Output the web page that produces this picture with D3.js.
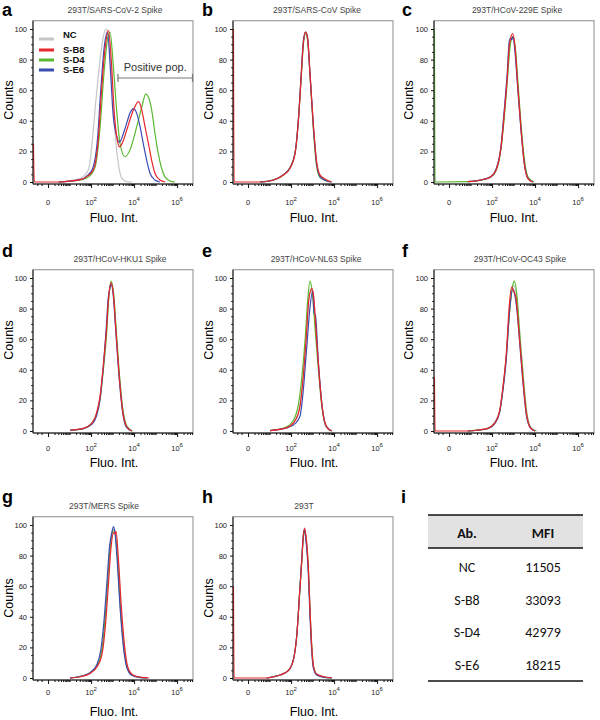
<!DOCTYPE html>
<html><head><meta charset="utf-8">
<script src="https://cdn.jsdelivr.net/npm/d3@7"></script>
<style>body{margin:0;background:#fff}svg{display:block}</style>
</head><body><svg id="c" width="600" height="720"></svg>
<script>
// ---------- DATA ----------
// x values: display units of fluorescence (decades, logicle-like axis), y values: counts (% of max)
const seriesNames = ["NC", "S-B8", "S-D4", "S-E6"];
const yTicks = [0, 20, 40, 60, 80, 100];
const xTicks = [0, 2, 4, 6];
const xTickExp = ["", "2", "4", "6"];
const panelIds = ["a","b","c","d","e","f","g","h"];
const panelTitles = ["293T/SARS-CoV-2 Spike","293T/SARS-CoV Spike","293T/HCoV-229E Spike","293T/HCoV-HKU1 Spike","293T/HCoV-NL63 Spike","293T/HCoV-OC43 Spike","293T/MERS Spike","293T"];
const tableHead = ["Ab.", "MFI"];
const tableAb = ["NC", "S-B8", "S-D4", "S-E6"];
const tableMFI = [11505, 33093, 42979, 18215];

const a_NC  = [[0.5,0],[0.87,0.6],[1.49,2.4],[1.88,8],[2.03,23],[2.23,54],[2.42,80],[2.57,95],[2.69,100],[2.81,95],[2.92,75],[3.04,49],[3.16,25],[3.29,10],[3.43,2.4],[3.66,0.2],[3.9,0]];
const a_SB8 = [[-0.68,25],[-0.64,0],[0.5,0],[1.0,0.6],[1.5,1.5],[1.85,4],[2.11,8],[2.33,27],[2.48,58],[2.64,86],[2.81,99],[2.96,75],[3.07,47],[3.19,30],[3.33,23],[3.5,27],[3.66,34],[3.97,47],[4.2,52.5],[4.36,47],[4.51,36],[4.67,25],[4.82,14],[4.97,5.7],[5.2,1.3],[5.45,0]];
const a_SD4 = [[0.5,0],[1.0,0.5],[1.5,1.3],[1.9,3.5],[2.19,10],[2.42,36],[2.6,71],[2.76,93],[2.88,98],[3.04,75],[3.19,47],[3.35,25],[3.58,16.5],[3.81,21],[4.12,36],[4.36,49],[4.54,57.5],[4.69,54.7],[4.82,47],[4.97,32],[5.12,19],[5.28,9],[5.43,3.5],[5.67,0.7],[5.9,0]];
const a_SE6 = [[0.5,0],[1.0,0.6],[1.5,1.5],[1.85,4.5],[2.08,9],[2.3,28],[2.45,60],[2.61,88],[2.76,98],[2.91,71],[3.02,45],[3.19,30],[3.32,26],[3.58,35],[3.84,46],[3.97,48],[4.12,45],[4.28,36],[4.43,25],[4.59,14],[4.74,5.7],[4.97,1.3],[5.2,0]];

const b_NC  = [[0.56,0],[1.18,1.2],[1.64,4.4],[1.95,9],[2.19,19],[2.34,40],[2.47,69],[2.57,90],[2.66,97],[2.75,94],[2.87,72],[3.03,37],[3.18,12],[3.34,3.3],[3.58,1],[3.85,0]];
const b_SB8 = [[-0.68,100],[-0.65,0],[0.56,0],[1.18,1.3],[1.64,4.6],[1.95,9],[2.19,19],[2.34,40],[2.47,69],[2.57,91],[2.67,98],[2.76,95],[2.88,71],[3.04,37],[3.19,13],[3.35,4.5],[3.58,2],[3.89,0]];
const b_SD4 = [[0.56,0],[1.18,1.3],[1.64,4.5],[1.95,9.5],[2.2,20],[2.35,42],[2.48,70],[2.58,91],[2.67,97],[2.77,93],[2.88,70],[3.03,36],[3.18,11],[3.34,3],[3.58,1],[3.85,0]];
const b_SE6 = [[0.56,0],[1.18,1.3],[1.64,4.8],[1.95,9.3],[2.19,19.5],[2.34,41],[2.47,70],[2.57,92],[2.67,98],[2.76,95],[2.88,71],[3.04,36],[3.19,12],[3.35,3.5],[3.58,1.2],[3.89,0]];

const c_NC  = [[0.87,0.2],[1.49,1.3],[1.95,3.5],[2.19,8],[2.42,23],[2.57,45],[2.71,69],[2.83,90],[2.94,95],[3.06,88],[3.19,63],[3.35,34],[3.5,13],[3.66,3],[3.92,0]];
const c_SB8 = [[0.87,0.2],[1.49,1.3],[1.95,3.5],[2.19,8],[2.42,23],[2.57,45],[2.71,69],[2.81,90],[2.96,97],[3.07,88],[3.19,64],[3.35,34],[3.5,12],[3.66,2.4],[3.89,0]];
const c_SD4 = [[-0.68,100],[-0.65,0],[0.87,0.2],[1.49,1.2],[1.95,3.3],[2.19,7.5],[2.42,22],[2.58,44],[2.72,68],[2.84,89],[2.97,95],[3.08,88],[3.21,64],[3.37,34],[3.52,13],[3.68,3],[3.95,0]];
const c_SE6 = [[0.87,0.2],[1.49,1.4],[1.95,3.6],[2.19,8.5],[2.42,24],[2.56,46],[2.7,70],[2.8,92],[2.86,94],[2.92,93],[2.97,95],[3.06,86],[3.19,62],[3.35,33],[3.5,12],[3.66,2.5],[3.89,0]];

const d_NC  = [[1.02,0.5],[1.64,1.7],[2.03,5],[2.26,11.5],[2.42,22],[2.57,42],[2.71,64],[2.82,87],[2.93,96],[3.04,90],[3.16,67],[3.32,36],[3.47,15],[3.66,3.2],[3.92,0]];
const d_SB8 = [[1.02,0.5],[1.64,1.7],[2.03,5],[2.26,12],[2.42,23],[2.57,43],[2.71,65],[2.82,88],[2.93,97],[3.04,89],[3.16,65],[3.32,34],[3.47,13],[3.66,2.8],[3.89,0]];
const d_SD4 = [[1.02,0.5],[1.64,1.6],[2.03,4.8],[2.26,11],[2.42,21],[2.58,41],[2.72,63],[2.83,88],[2.93,98],[3.04,91],[3.17,66],[3.33,35],[3.48,14],[3.67,3],[3.92,0]];
const d_SE6 = [[1.02,0.5],[1.64,1.5],[2.03,4.3],[2.26,10],[2.42,21],[2.57,42],[2.7,66],[2.8,87],[2.86,92],[2.93,96],[3.03,89],[3.15,65],[3.31,34],[3.46,13],[3.64,2.5],[3.89,0]];

const e_NC  = [[1.02,0.3],[1.8,2.3],[2.15,6],[2.4,16],[2.55,34],[2.7,61],[2.82,86],[2.94,93],[3.04,89],[3.15,69],[3.3,39],[3.46,15],[3.66,3],[3.92,0]];
const e_SB8 = [[1.02,0.3],[1.8,2.2],[2.15,6],[2.4,15],[2.55,33],[2.7,60],[2.82,85],[2.96,93],[3.05,88],[3.15,68],[3.3,38],[3.46,14],[3.66,2.5],[3.89,0]];
const e_SD4 = [[1.02,0.3],[1.8,2.8],[2.11,7],[2.35,18],[2.5,35],[2.66,61],[2.77,85],[2.88,98],[2.99,90],[3.11,68],[3.27,40],[3.43,16],[3.63,3],[3.89,0]];
const e_SE6 = [[1.02,0.3],[1.8,2],[2.2,5],[2.42,10],[2.57,27],[2.73,55],[2.88,81],[3.01,91.5],[3.07,77],[3.13,76],[3.27,45],[3.43,18],[3.63,3],[3.89,0]];

const f_NC  = [[0.87,0],[1.33,0.7],[1.8,2],[2.11,5.5],[2.35,13],[2.5,28],[2.66,50],[2.81,78],[2.94,93],[3.02,95],[3.15,87],[3.3,62],[3.46,35],[3.61,13],[3.81,2.5],[4.1,0]];
const f_SB8 = [[-0.68,35],[-0.65,0],[0.87,0],[1.33,0.6],[1.8,1.7],[2.11,5],[2.35,13],[2.5,28],[2.66,50],[2.8,82],[2.91,94],[2.98,92],[3.1,88],[3.25,65],[3.42,36],[3.58,13],[3.78,2],[4.0,0]];
const f_SD4 = [[0.87,0],[1.33,0.6],[1.8,1.7],[2.11,5],[2.35,12.6],[2.5,27],[2.66,48],[2.81,77],[2.96,95],[3.04,98],[3.16,88],[3.3,61],[3.46,33],[3.61,11.5],[3.81,1.7],[4.04,0]];
const f_SE6 = [[0.87,0],[1.33,0.5],[1.8,1.5],[2.11,4.5],[2.35,12],[2.5,26],[2.66,47],[2.81,78],[2.96,93],[3.04,90],[3.15,80],[3.3,55],[3.46,28],[3.61,9],[3.81,1.5],[4.0,0]];

const g_NC  = [[1.02,0],[1.49,0.8],[1.95,3],[2.26,7],[2.49,15],[2.64,33],[2.78,60],[2.9,84],[3.03,95],[3.12,95],[3.25,78],[3.38,48],[3.53,22],[3.69,7],[3.92,2],[4.3,0.4],[4.65,0]];
const g_SB8 = [[1.02,0],[1.49,0.8],[1.95,3],[2.26,7],[2.5,15],[2.66,33],[2.8,60],[2.92,84],[3.05,95],[3.12,94],[3.16,96],[3.27,78],[3.4,48],[3.55,22],[3.71,7],[3.95,2],[4.35,0.4],[4.7,0]];
const g_SD4 = [[1.02,0],[1.49,1],[1.95,3.3],[2.26,7.6],[2.47,16],[2.62,34],[2.76,60],[2.88,84],[3.01,96],[3.09,96.7],[3.22,79],[3.35,49],[3.5,23],[3.66,7.6],[3.89,2],[4.28,0.4],[4.6,0]];
const g_SE6 = [[1.02,0],[1.49,1],[1.95,3.5],[2.26,8.5],[2.45,18],[2.6,37],[2.74,63],[2.86,86],[2.98,96],[3.04,99],[3.12,94],[3.22,76],[3.35,46],[3.5,21],[3.66,7],[3.89,1.8],[4.28,0.3],[4.6,0]];

const h_NC  = [[0.87,0],[1.18,0.8],[1.49,2],[1.88,5],[2.11,12],[2.26,27],[2.42,60],[2.5,78],[2.56,91],[2.62,97],[2.7,91],[2.81,70],[2.88,45],[2.96,21],[3.04,7.6],[3.19,2.2],[3.5,0.6],[3.89,0]];
const h_SB8 = [[-0.68,60],[-0.65,0],[0.87,0],[1.18,0.8],[1.49,2],[1.88,5],[2.11,12],[2.26,27],[2.42,60],[2.5,77],[2.56,91],[2.63,98],[2.73,88],[2.81,70],[2.88,45],[2.96,21],[3.04,8],[3.19,2.6],[3.5,1],[3.89,0]];
const h_SD4 = [[0.87,0],[1.18,0.8],[1.49,2],[1.88,5],[2.11,12],[2.26,27],[2.42,60],[2.5,77],[2.56,90],[2.62,96],[2.7,90],[2.81,70],[2.88,45],[2.96,21],[3.04,7.6],[3.19,2.2],[3.5,0.6],[3.89,0]];
const h_SE6 = [[0.87,0],[1.18,0.8],[1.49,2],[1.88,5],[2.11,12],[2.26,27],[2.42,61],[2.5,78],[2.56,92],[2.62,97],[2.7,89],[2.8,69],[2.87,44],[2.95,20],[3.03,7],[3.19,2],[3.5,0.5],[3.89,0]];

const panelData = [
  [a_NC, a_SB8, a_SD4, a_SE6],
  [b_NC, b_SB8, b_SD4, b_SE6],
  [c_NC, c_SB8, c_SD4, c_SE6],
  [d_NC, d_SB8, d_SD4, d_SE6],
  [e_NC, e_SB8, e_SD4, e_SE6],
  [f_NC, f_SB8, f_SD4, f_SE6],
  [g_NC, g_SB8, g_SD4, g_SE6],
  [h_NC, h_SB8, h_SD4, h_SE6]
];

// ---------- STYLE / LAYOUT ----------
const colors = {"NC":"#c6c6c6","S-B8":"#e8262b","S-D4":"#5bb930","S-E6":"#3a4db3"};
const drawOrder = [0, 2, 3, 1]; // NC, S-D4, S-E6, S-B8 on top
const FONT = "'Liberation Sans', Arial, sans-serif";
const colLeft = [33, 233, 434];
const colOff = [0, 200, 400];
const rowZero = [182, 431, 678];
const rowTitleY = [13, 262, 509];
const rowLabelY = [16, 257, 503];
const rowTickLblY = [205, 451, 695];
const rowFluoY = [222, 467, 716];
const rowCountsY = [100, 340, 598];
const titleCx = [115, 317, 517, 120, 316, 520, 104, 304];
const PW = 160, PH = 153;
const xDomain = [-0.7, 6.74];

const svg = d3.select("#c");
const xMinor = [];
[-0.5, -0.3].forEach(v => xMinor.push(v));
for (let n = 0; n <= 6; n++) for (let k = 1; k <= 9; k++) {
  const v = n + Math.log10(k);
  if (v <= 6.7 && !xTicks.includes(v)) xMinor.push(v);
}
const yMinor = d3.range(0, 101, 5).filter(v => v % 20 !== 0);

panelIds.forEach((id, i) => {
  const col = i % 3, row = Math.floor(i / 3);
  const left = colLeft[col], zero = rowZero[row];
  const x = d3.scaleLinear().domain(xDomain).range([left, left + PW]);
  const y = d3.scaleLinear().domain([0, 100]).range([zero, zero - PH]);
  const top = y(105.4), bottom = zero + 2;
  const g = svg.append("g");

  g.append("rect").attr("x", left).attr("y", top).attr("width", PW).attr("height", bottom - top)
    .attr("fill", "none").attr("stroke", "#8c8c8c").attr("stroke-width", 1);

  const line = d3.line().x(d => x(d[0])).y(d => y(d[1])).curve(d3.curveMonotoneX);
  drawOrder.forEach(s => {
    g.append("path").datum(panelData[i][s]).attr("d", line)
      .attr("fill", "none").attr("stroke", colors[seriesNames[s]]).attr("stroke-width", 1.2)
      .attr("stroke-linejoin", "round");
  });

  // axis lines
  g.append("line").attr("x1", left).attr("x2", left).attr("y1", top).attr("y2", bottom).attr("stroke", "#111");
  g.append("line").attr("x1", left).attr("x2", left + PW).attr("y1", bottom).attr("y2", bottom).attr("stroke", "#111");

  // y axis
  const ya = g.append("g").attr("transform", `translate(${left},0)`)
    .call(d3.axisLeft(y).tickValues(yTicks).tickSize(3).tickPadding(3));
  ya.select(".domain").remove();
  ya.selectAll("text").attr("font-family", FONT).attr("font-size", 7.5).attr("fill", "#222");
  const ym = g.append("g").attr("transform", `translate(${left},0)`)
    .call(d3.axisLeft(y).tickValues(yMinor).tickSize(1.8).tickFormat(""));
  ym.select(".domain").remove();

  // x axis
  const xm = g.append("g").attr("transform", `translate(0,${bottom})`)
    .call(d3.axisBottom(x).tickValues(xMinor).tickSize(2).tickFormat(""));
  xm.select(".domain").remove();
  const xa = g.append("g").attr("transform", `translate(0,${bottom})`)
    .call(d3.axisBottom(x).tickValues(xTicks).tickSize(4).tickFormat(""));
  xa.select(".domain").remove();
  g.selectAll(".tick line").attr("stroke", "#111");

  xTicks.forEach((v, j) => {
    const t = g.append("text").attr("x", x(v)).attr("y", rowTickLblY[row])
      .attr("text-anchor", "middle").attr("font-family", FONT).attr("font-size", 7.5).attr("fill", "#222");
    if (xTickExp[j] === "") { t.text("0"); }
    else {
      t.append("tspan").text("10");
      t.append("tspan").attr("dy", -4).attr("font-size", 6).text(xTickExp[j]);
    }
  });

  // labels
  g.append("text").attr("x", titleCx[i]).attr("y", rowTitleY[row]).attr("text-anchor", "middle")
    .attr("font-family", FONT).attr("font-size", 8.5).attr("fill", "#444").text(panelTitles[i]);
  g.append("text").attr("x", colOff[col] + 2).attr("y", rowLabelY[row])
    .attr("font-family", FONT).attr("font-size", 18).attr("font-weight", "bold").attr("fill", "#000").text(id);
  g.append("text").attr("transform", `translate(${colOff[col] + 13},${rowCountsY[row]}) rotate(-90)`)
    .attr("text-anchor", "middle").attr("font-family", FONT).attr("font-size", 12.5).attr("fill", "#000").text("Counts");
  g.append("text").attr("x", colOff[col] + 114).attr("y", rowFluoY[row]).attr("text-anchor", "middle")
    .attr("font-family", FONT).attr("font-size", 12.5).attr("fill", "#000").text("Fluo. Int.");

  if (i === 0) {
    // legend
    const lg = g.append("g");
    const ly = [39, 50, 60, 70];
    const ty = [38, 53, 63, 73];
    seriesNames.forEach((s, k) => {
      lg.append("line").attr("x1", 39).attr("x2", 54).attr("y1", ly[k]).attr("y2", ly[k])
        .attr("stroke", colors[s]).attr("stroke-width", 3);
      lg.append("text").attr("x", 63).attr("y", ty[k]).attr("font-family", FONT).attr("font-size", 9.5)
        .attr("font-weight", "bold").attr("fill", "#111").text(s);
    });
    // positive population bracket
    const bx1 = x(3.25), bx2 = x(6.74) - 0.5, by = 78;
    g.append("line").attr("x1", bx1).attr("x2", bx2).attr("y1", by).attr("y2", by).attr("stroke", "#777").attr("stroke-width", 1.2);
    [bx1, bx2].forEach(bx => g.append("line").attr("x1", bx).attr("x2", bx).attr("y1", by - 4).attr("y2", by + 4).attr("stroke", "#777").attr("stroke-width", 1.2));
    g.append("text").attr("x", (bx1 + bx2) / 2).attr("y", 71).attr("text-anchor", "middle")
      .attr("font-family", FONT).attr("font-size", 11).attr("fill", "#333").text("Positive pop.");
  }
});

// ---------- TABLE (i) ----------
svg.append("text").attr("x", 401).attr("y", 503).attr("font-family", FONT).attr("font-size", 18)
  .attr("font-weight", "bold").text("i");
const TF = "Carlito, Lato, 'Open Sans', sans-serif";
const tx1 = 428, tx2 = 583, tTop = 515, tHead = 548, tBot = 681;
const colX = [467, 543];
svg.append("rect").attr("x", tx1).attr("y", tTop).attr("width", tx2 - tx1).attr("height", tHead - tTop).attr("fill", "#e2e2e2");
[tTop, tHead, tBot].forEach(yy => svg.append("line").attr("x1", tx1).attr("x2", tx2).attr("y1", yy).attr("y2", yy)
  .attr("stroke", "#111").attr("stroke-width", 1.5));
tableHead.forEach((h, k) => svg.append("text").attr("x", colX[k]).attr("y", 538).attr("text-anchor", "middle")
  .attr("font-family", TF).attr("font-size", 14).attr("font-weight", "bold").attr("fill", "#111").text(h));
const rowY = d3.scalePoint().domain(tableAb).range([567, 665]);
tableAb.forEach((ab, k) => {
  svg.append("text").attr("x", colX[0]).attr("y", rowY(ab) + 5).attr("text-anchor", "middle")
    .attr("font-family", TF).attr("font-size", 14).attr("fill", "#111").text(ab);
  svg.append("text").attr("x", colX[1]).attr("y", rowY(ab) + 5).attr("text-anchor", "middle")
    .attr("font-family", TF).attr("font-size", 14).attr("fill", "#111").text(tableMFI[k]);
});
</script>
</body></html>
